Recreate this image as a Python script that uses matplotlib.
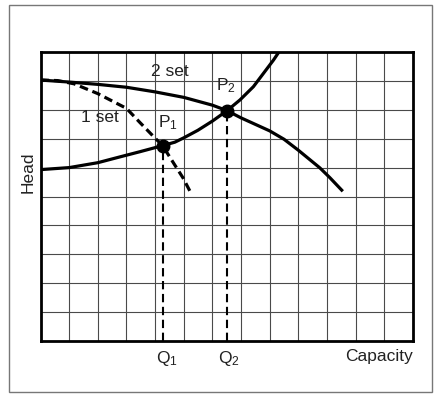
import matplotlib
matplotlib.use("Agg")
import matplotlib.pyplot as plt
from matplotlib.patches import Rectangle

plt.rcParams['font.family'] = ['Liberation Sans', 'DejaVu Sans']
plt.rcParams['mathtext.fontset'] = 'custom'
plt.rcParams['mathtext.rm'] = 'Liberation Sans'
plt.rcParams['mathtext.it'] = 'Liberation Sans'

# Pump curve, 2 sets in parallel (capacity, head)
two_set_q = [0.0, 1.0, 2.0, 3.0, 4.0, 5.0, 6.0, 6.51, 7.0, 8.0, 8.5, 9.0, 9.75, 10.1, 10.55]
two_set_h = [9.03, 8.96, 8.88, 8.78, 8.62, 8.43, 8.16, 7.97, 7.72, 7.27, 6.98, 6.6, 5.99, 5.65, 5.18]

# Pump curve, 1 set
one_set_q = [0.0, 0.6, 1.17, 2.0, 3.0, 3.47, 3.94, 4.26, 4.68, 4.97, 5.26]
one_set_h = [9.03, 9.01, 8.9, 8.56, 8.05, 7.56, 7.08, 6.76, 6.1, 5.65, 5.1]

# System curve
system_q = [0.0, 1.0, 2.0, 2.77, 3.47, 4.26, 4.69, 5.0, 5.49, 6.0, 6.51, 6.96, 7.43, 7.78, 8.13, 8.32]
system_h = [5.93, 6.0, 6.17, 6.37, 6.55, 6.76, 6.88, 7.03, 7.29, 7.61, 7.97, 8.34, 8.80, 9.26, 9.72, 10.0]

# Operating points
points_q = [4.26, 6.51]
points_h = [6.76, 7.97]
point_labels = ['P$_\\mathregular{1}$', 'P$_\\mathregular{2}$']
q_labels = ['Q$_\\mathregular{1}$', 'Q$_\\mathregular{2}$']

n_cols = 13
n_rows = 10

fig = plt.figure(figsize=(4.41, 3.99), dpi=100)
fig.patches.append(Rectangle((9/441, 1-391.7/399), (432-9)/441, (391.7-5)/399,
                             transform=fig.transFigure, fill=False,
                             edgecolor='#777777', lw=1.0))

ax = fig.add_axes([40.5/441, 1-341/399, (413-40.5)/441, (341-52)/399])
ax.set_xlim(0, n_cols)
ax.set_ylim(0, n_rows)
for i in range(1, n_cols):
    ax.axvline(i, color='#4a4a4a', lw=0.8, zorder=1)
for j in range(1, n_rows):
    ax.axhline(j, color='#4a4a4a', lw=0.8, zorder=1)
for s in ax.spines.values():
    s.set_linewidth(2.0)
    s.set_color('black')
ax.set_xticks([])
ax.set_yticks([])

ax.plot(two_set_q, two_set_h, color='black', lw=2.3, solid_capstyle='butt',
        solid_joinstyle='round', zorder=3)
ax.plot(one_set_q, one_set_h, color='black', lw=2.3, dashes=(2.7, 1.5),
        dash_capstyle='butt', zorder=3)
ax.plot(system_q, system_h, color='black', lw=2.3, solid_joinstyle='round',
        zorder=3, clip_on=True)

for q, h in zip(points_q, points_h):
    ax.plot([q, q], [0, h], color='black', lw=1.5, dashes=(4, 2.2), zorder=2)
ax.plot(points_q, points_h, 'o', color='black', ms=9, zorder=4)

txt = dict(color='#222222', fontsize=12.5)
ax.text(4.5, 9.33, '2 set', ha='center', va='center', **txt)
ax.text(2.07, 7.72, '1 set', ha='center', va='center', **txt)
ax.text(4.44, 7.55, point_labels[0], ha='center', va='center', **txt)
ax.text(6.48, 8.83, point_labels[1], ha='center', va='center', **txt)
ax.text(points_q[0] + 0.15, -0.62, q_labels[0], ha='center', va='center', **txt)
ax.text(points_q[1] + 0.05, -0.62, q_labels[1], ha='center', va='center', **txt)
ax.text(13.0, -0.55, 'Capacity', ha='right', va='center', **txt)
ax.text(-0.44, 5.85, 'Head', ha='center', va='center', rotation=90, **txt)

fig.savefig('out.png', dpi=100)
